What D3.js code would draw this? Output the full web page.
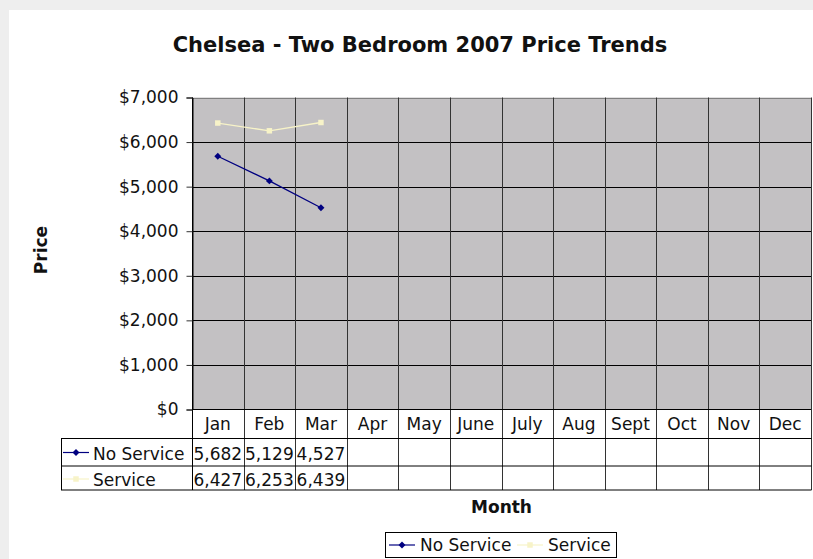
<!DOCTYPE html>
<html>
<head>
<meta charset="utf-8">
<script src="https://cdn.jsdelivr.net/npm/d3@7"></script>
<style>
  html, body { margin: 0; padding: 0; background: #eeeeee; }
  svg { display: block; }
  text { font-family: "DejaVu Sans", Verdana, sans-serif; fill: #111; }
</style>
</head>
<body>
<svg id="chart" width="813" height="559"></svg>
<script>
// Monthly average prices, 2007
const months = ["Jan", "Feb", "Mar", "Apr", "May", "June", "July", "Aug", "Sept", "Oct", "Nov", "Dec"];
const noService = [5682, 5129, 4527];
const service = [6427, 6253, 6439];
const yTicks = [0, 1000, 2000, 3000, 4000, 5000, 6000, 7000];
const seriesNames = ["No Service", "Service"];

const W = 813, H = 559;
const plot = { left: 192, right: 811, top: 97.5, bottom: 409.5 };
const rowLabelLeft = 61;
const rowEdges = [409.5, 438.5, 466, 490];

const colors = { "No Service": "#000080", "Service": "#f7f3c8" };
const series = [
  { name: seriesNames[0], values: noService, marker: "diamond" },
  { name: seriesNames[1], values: service, marker: "square" }
];

const svg = d3.select("#chart");

// white chart area inside the light grey page
svg.append("rect").attr("x", 9).attr("y", 10).attr("width", W - 9).attr("height", H - 10).attr("fill", "#ffffff");

const x = d3.scaleBand().domain(months).range([plot.left, plot.right]);
const y = d3.scaleLinear().domain([0, 7000]).range([plot.bottom, plot.top]);

// title
svg.append("text")
  .attr("x", 420).attr("y", 52)
  .attr("text-anchor", "middle")
  .style("font-size", "21px").style("font-weight", "bold")
  .text("Chelsea - Two Bedroom 2007 Price Trends");

// plot background
svg.append("rect")
  .attr("x", plot.left).attr("y", plot.top)
  .attr("width", plot.right - plot.left).attr("height", plot.bottom - plot.top)
  .attr("fill", "#c3c1c3");

// horizontal gridlines
svg.append("g").selectAll("line").data(yTicks.filter(d => d > 0)).join("line")
  .attr("x1", plot.left).attr("x2", plot.right)
  .attr("y1", d => Math.round(y(d)) + 0.5).attr("y2", d => Math.round(y(d)) + 0.5)
  .attr("stroke", d => d === 7000 ? "#808080" : "#000").attr("stroke-width", 1);

// vertical lines between months, through plot and data table
const bounds = months.map(m => x(m)).concat([plot.right]);
svg.append("g").selectAll("line").data(bounds).join("line")
  .attr("x1", d => Math.round(d) + 0.5).attr("x2", d => Math.round(d) + 0.5)
  .attr("y1", plot.top).attr("y2", rowEdges[3])
  .attr("stroke", (d, i) => (i === 0) ? "#000" : "#333").attr("stroke-width", 1);

// y axis
const yAxis = d3.axisLeft(y)
  .tickValues(yTicks)
  .tickFormat(d => "$" + d3.format(",")(d))
  .tickSize(6).tickPadding(8);
const gy = svg.append("g").attr("transform", `translate(${plot.left + 0.5},0)`).call(yAxis);
gy.select(".domain").attr("stroke", "#000");
gy.selectAll(".tick line").attr("stroke", "#333");
gy.selectAll(".tick text")
  .style("font-size", "17px").attr("fill", "#111")
  .attr("font-family", "DejaVu Sans, Verdana, sans-serif");

// y axis title
svg.append("text")
  .attr("transform", "translate(47,250) rotate(-90)")
  .attr("text-anchor", "middle")
  .style("font-size", "17px").style("font-weight", "bold")
  .text("Price");

// data table: horizontal rules
svg.append("line").attr("x1", plot.left).attr("x2", plot.right)
  .attr("y1", plot.bottom).attr("y2", plot.bottom).attr("stroke", "#000");
[rowEdges[1], rowEdges[2], rowEdges[3]].forEach(yy => {
  svg.append("line").attr("x1", rowLabelLeft).attr("x2", plot.right + 0.5)
    .attr("y1", yy).attr("y2", yy).attr("stroke", "#000");
});
svg.append("line").attr("x1", rowLabelLeft + 0.5).attr("x2", rowLabelLeft + 0.5)
  .attr("y1", rowEdges[1]).attr("y2", rowEdges[3]).attr("stroke", "#000");

// month labels in the header row
svg.append("g").selectAll("text").data(months).join("text")
  .attr("x", d => x(d) + x.bandwidth() / 2).attr("y", 430)
  .attr("text-anchor", "middle").style("font-size", "17px")
  .text(d => d);

// marker shapes: a square turned 45 degrees for the diamond
const squareSym = d3.symbol().type(d3.symbolSquare).size(30);
const diamondSym = d3.symbol().type(d3.symbolSquare).size(24);
function markerTransform(s, cx, cy) {
  return s.marker === "diamond"
    ? `translate(${cx},${cy}) rotate(45)`
    : `translate(${cx},${cy})`;
}
function markerPath(s) {
  return s.marker === "diamond" ? diamondSym() : squareSym();
}
function drawKey(g, s, x0, x1, yy) {
  g.append("line").attr("x1", x0).attr("x2", x1).attr("y1", yy).attr("y2", yy)
    .attr("stroke", colors[s.name]).attr("stroke-width", 1.2);
  g.append("path").attr("d", markerPath(s))
    .attr("transform", markerTransform(s, (x0 + x1) / 2, yy))
    .attr("fill", colors[s.name]);
}

// table rows: series key, name and values
const rowBase = [459.5, 486];
const rowMid = [452.5, 479];
series.forEach((s, i) => {
  const g = svg.append("g");
  drawKey(g, s, 63, 89, rowMid[i]);
  g.append("text").attr("x", 93).attr("y", rowBase[i]).style("font-size", "17px").text(s.name);
  g.selectAll("text.val").data(s.values).join("text").attr("class", "val")
    .attr("x", (d, j) => x(months[j]) + x.bandwidth() / 2).attr("y", rowBase[i])
    .attr("text-anchor", "middle").style("font-size", "17px")
    .text(d => d3.format(",")(d));
});

// series lines and markers
const line = d3.line().x((d, j) => x(months[j]) + x.bandwidth() / 2).y(d => y(d));
series.slice().reverse().forEach(s => {
  svg.append("path").datum(s.values).attr("d", line)
    .attr("fill", "none").attr("stroke", colors[s.name]).attr("stroke-width", 1.3);
  svg.append("g").selectAll("path").data(s.values).join("path")
    .attr("d", markerPath(s))
    .attr("transform", (d, j) => markerTransform(s, x(months[j]) + x.bandwidth() / 2, y(d)))
    .attr("fill", colors[s.name]);
});

// x axis title
svg.append("text")
  .attr("x", (plot.left + plot.right) / 2).attr("y", 513)
  .attr("text-anchor", "middle")
  .style("font-size", "17px").style("font-weight", "bold")
  .text("Month");

// legend
const lg = svg.append("g");
lg.append("rect").attr("x", 385.5).attr("y", 532.5).attr("width", 231).attr("height", 25)
  .attr("fill", "#fff").attr("stroke", "#000");
drawKey(lg, series[0], 389, 415, 545);
lg.append("text").attr("x", 420).attr("y", 551).style("font-size", "17px").text(series[0].name);
drawKey(lg, series[1], 517, 543, 545);
lg.append("text").attr("x", 548).attr("y", 551).style("font-size", "17px").text(series[1].name);
</script>
</body>
</html>
